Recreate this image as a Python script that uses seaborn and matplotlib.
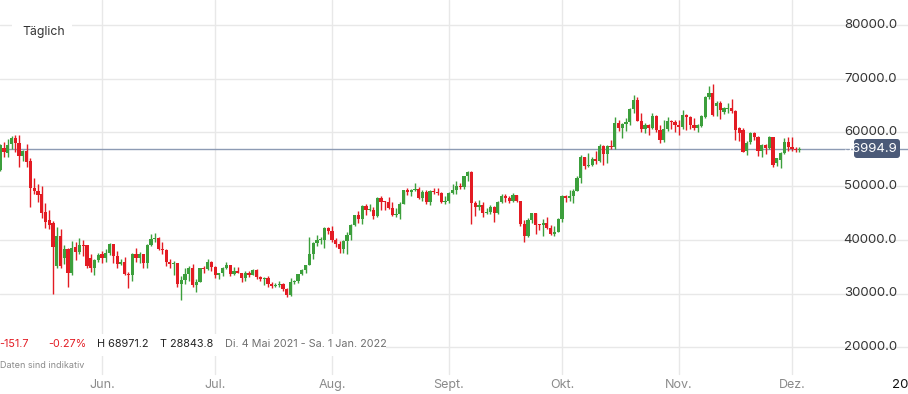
"""
Daily BTC candlestick chart, May - Dec 2021.
"""

import pandas as pd
import numpy as np
import matplotlib
matplotlib.use('Agg')
import matplotlib.pyplot as plt
import matplotlib.patches as mpatches
from matplotlib.transforms import IdentityTransform
import seaborn as sns

# Daily candles, 5 May 2021 - 3 Dec 2021
dates = pd.date_range('2021-05-05', '2021-12-03', freq='D')

open_ = [
    # May
    53000, 57100, 56150, 57850, 58950, 58000, 55600, 56500, 54700, 49650, 49100, 48500, 45200, 43700,
    43100, 35100, 40700, 36600, 38300, 33800, 38700, 37750, 39000, 39000, 36600, 34750, 36250,
    # Jun
    37300, 36700, 37600, 39200, 36900, 35500, 35800, 33600, 33400, 37300, 36700, 37300, 35600, 39100,
    40200, 40400, 38300, 38100, 35800, 35500, 35600, 31700, 32500, 33700, 34700, 31600, 32200, 34700,
    34500, 35900,
    # Jul
    35000, 33500, 33800, 34700, 35300, 33700, 34200, 33900, 32900, 33800, 33500, 34300, 33100, 32700,
    32800, 31800, 31400, 31500, 31800, 30800, 29800, 32100, 32300, 33600, 34300, 35400, 37300, 39400,
    40000, 40000, 42200,
    # Aug
    41600, 39900, 39200, 38200, 39700, 40900, 42800, 44600, 43800, 46300, 45600, 45600, 44400, 47800,
    47100, 47000, 45900, 44700, 44800, 46700, 49300, 48900, 49300, 49500, 47700, 48900, 47000, 49100,
    48900, 48800, 47000,
    # Sep
    47200, 48800, 49300, 50000, 49900, 51800, 52700, 46800, 46100, 46400, 44900, 45200, 46100, 44900,
    47100, 48200, 47800, 47300, 48300, 47300, 43000, 40700, 43600, 44900, 42800, 42700, 43200, 42200,
    41000, 41500,
    # Oct
    43800, 48100, 47700, 48200, 49100, 51500, 55400, 53800, 53900, 55000, 54700, 57500, 56000, 57400,
    57300, 61700, 60900, 61500, 62000, 64300, 66000, 62200, 60700, 61400, 60900, 63000, 60400, 58500,
    60600, 62200, 61900,
    # Nov
    61300, 61000, 63200, 62900, 61400, 60800, 61200, 62900, 66600, 67300, 65000, 65500, 63800, 64300,
    64600, 64000, 60800, 60450, 56500, 58200, 59900, 59150, 56550, 57650, 57100, 59150, 54300, 54850,
    56150, 58200,
    # Dec
    57300, 57000, 56700,
]

high = [
    57900, 58300, 58700, 59400, 59500, 59600, 56800, 57900, 55200, 51500, 50300, 50000, 46800, 45500,
    43500, 42400, 42000, 39000, 38500, 39800, 39500, 40400, 40000, 39100, 37300, 36500, 37500,
    37900, 38200, 39400, 39300, 37900, 36400, 36800, 34000, 37500, 38400, 37700, 37400, 39300, 41000,
    41300, 40500, 39500, 38200, 36400, 36100, 35700, 33300, 34800, 35200, 35500, 32700, 34700, 35200,
    36500, 36100,
    35100, 33900, 34900, 35900, 35300, 35000, 35000, 33900, 34100, 34200, 34600, 34600, 33300, 33100,
    33200, 32200, 31900, 32400, 31900, 31000, 32800, 32600, 33600, 34500, 35400, 40500, 39500, 40900,
    40600, 42300, 42400,
    42600, 40400, 39800, 39900, 41400, 43000, 44700, 45300, 46400, 46600, 46700, 46200, 47900, 48100,
    47300, 48000, 47100, 46000, 47000, 49300, 49700, 49500, 50500, 49800, 49300, 49300, 49200, 49600,
    49600, 48900, 48200,
    48900, 50400, 51000, 50500, 51900, 52800, 52900, 47300, 47400, 47100, 45900, 46400, 46300, 47200,
    48500, 48500, 48100, 48800, 48400, 47300, 43600, 44000, 44900, 45000, 42900, 43900, 44300, 42700,
    42600, 44100,
    48400, 48300, 49200, 49400, 51800, 55700, 55400, 56100, 55400, 56500, 57800, 57600, 57700, 58500,
    62800, 62300, 61700, 62600, 64500, 67000, 66600, 63700, 61700, 61500, 63600, 63300, 61400, 62400,
    62900, 62300, 62300,
    62400, 64200, 63500, 63100, 62600, 61600, 63300, 66800, 68600, 68971, 65800, 65800, 64800, 65400,
    66200, 64100, 61000, 60900, 58400, 60000, 60000, 59300, 57800, 57800, 59300, 59200, 55300, 56300,
    58900, 59200,
    59100, 57300, 57300,
]

low = [
    52900, 55500, 55500, 57000, 56400, 53600, 54600, 53600, 46100, 48500, 47000, 44000, 42200, 42000,
    30000, 34800, 34800, 35500, 31200, 33500, 36300, 37300, 36900, 34800, 34000, 33500, 35800,
    35700, 35900, 37200, 35600, 34800, 35300, 33400, 31000, 32400, 35800, 35700, 34700, 34800, 38800,
    39500, 38100, 37400, 35200, 34800, 33400, 31300, 28844, 31700, 32400, 31300, 30200, 32100, 33900,
    34300, 34100,
    32800, 32700, 33300, 34500, 33200, 33500, 33800, 32100, 32300, 33000, 33400, 32700, 32300, 31600,
    31200, 31100, 31200, 31200, 30500, 29300, 29500, 31700, 32000, 33400, 33900, 35300, 36400, 38800,
    39300, 38400, 41000,
    39500, 38700, 37600, 37500, 37300, 39900, 42500, 43100, 42900, 44600, 45400, 43800, 44300, 45600,
    45500, 45700, 44400, 44200, 43900, 46600, 48300, 48200, 49000, 47600, 47200, 46600, 46500, 48600,
    48300, 46900, 46700,
    46800, 48600, 48500, 49500, 49500, 50900, 43000, 44500, 45600, 44200, 44800, 44800, 43400, 44800,
    46800, 47100, 46800, 47100, 47100, 42600, 39600, 40600, 43200, 41000, 41800, 40800, 42100, 40900,
    40800, 41400,
    43300, 47100, 47200, 46900, 49000, 50500, 53200, 53600, 53700, 54100, 54500, 54000, 54300, 56900,
    56900, 60200, 58900, 60200, 61400, 63600, 62100, 60100, 59900, 59600, 60600, 60100, 58100, 58200,
    60300, 60700, 60000,
    59500, 60700, 60400, 60700, 60500, 60100, 61000, 62700, 66300, 63000, 63100, 62500, 63500, 63700,
    63600, 58600, 58400, 56400, 55700, 57800, 58600, 55600, 55500, 55900, 57000, 53600, 53700, 53400,
    56000, 56500,
    56600, 56300, 56300,
]

close = [
    57600, 56350, 57650, 59000, 58000, 55600, 56500, 54500, 49650, 49100, 48350, 45000, 43300, 42800,
    38700, 40700, 35100, 38300, 33800, 38500, 37750, 39000, 38800, 35100, 34750, 36250, 37200,
    36700, 37600, 39200, 36900, 35500, 35800, 33600, 33400, 37300, 36700, 37300, 35600, 39100, 40200,
    40400, 38300, 38100, 35800, 35500, 35600, 31700, 32500, 33700, 34700, 31600, 32200, 34700, 34500,
    35900, 35000,
    33500, 33800, 34700, 35300, 33700, 34200, 33900, 32900, 33800, 33500, 34300, 33100, 32700, 32800,
    31800, 31400, 31500, 31800, 30800, 29800, 32100, 32300, 33600, 34300, 35400, 37300, 39400, 40000,
    40000, 42200, 41600,
    39900, 39200, 38200, 39700, 40900, 42800, 44600, 43800, 46300, 45600, 45600, 44400, 47800, 47100,
    47000, 45900, 44700, 44800, 46700, 49300, 48900, 49300, 49500, 47700, 48900, 47000, 49100, 48900,
    48800, 47000, 47200,
    48800, 49300, 50000, 49900, 51800, 52700, 46800, 46100, 46400, 44900, 45200, 46100, 44900, 47100,
    48200, 47800, 47300, 48300, 47300, 43000, 40700, 43600, 44900, 42800, 42700, 43200, 42200, 41000,
    41500, 43800,
    48100, 47700, 48200, 49100, 51500, 55400, 53800, 53900, 55000, 54700, 57500, 56000, 57400, 57300,
    61700, 60900, 61500, 62000, 64300, 66000, 62200, 60700, 61400, 60900, 63000, 60400, 58500, 60600,
    62200, 61900, 61300,
    61000, 63200, 62900, 61400, 60800, 61400, 63000, 66600, 67300, 63250, 65400, 64200, 64500, 64600,
    63900, 60450, 59900, 56350, 58000, 59900, 59150, 56550, 57650, 57100, 59150, 53950, 55200, 56150,
    58200, 57300,
    56900, 56750, 56995,
]

last_price = 56994.9
y_ticks = [20000, 30000, 40000, 50000, 60000, 70000, 80000]
month_ticks = ['2021-06-01', '2021-07-01', '2021-08-01', '2021-09-01', '2021-10-01', '2021-11-01', '2021-12-01']
month_labels = ['Jun.', 'Jul.', 'Aug.', 'Sept.', 'Okt.', 'Nov.', 'Dez.']

GREEN = '#3c9f3c'
RED = '#e31b23'
GRID = '#e8e8e8'

W, H = 908, 394

sns.set_theme(style='white')
plt.rcParams['font.family'] = ['Inter', 'DejaVu Sans']

df = pd.DataFrame({'date': dates, 'open': open_, 'high': high, 'low': low, 'close': close})
df['up'] = df['close'] >= df['open']
colors = np.where(df['up'], GREEN, RED)

fig = plt.figure(figsize=(W / 100, H / 100), dpi=100)
ax = fig.add_axes([0, 0, 1, 1])
sns.despine(ax=ax, left=True, bottom=True, right=True, top=True)

# grid
for v in y_ticks:
    ax.axhline(v, color=GRID, lw=1, zorder=0)
for d in month_ticks:
    ax.axvline(pd.Timestamp(d), ymin=20 / H, ymax=1, color=GRID, lw=1, zorder=0)

# candles
ax.vlines(df['date'], df['low'], df['high'], colors=colors, lw=1, zorder=2)
body = (df['close'] - df['open']).abs().clip(lower=180)
ax.bar(df['date'], body, bottom=df[['open', 'close']].min(axis=1), width=0.85,
       color=colors, linewidth=0, zorder=3)

# last price line
ax.axhline(last_price, color='#8d9bb4', lw=1, zorder=1)

x0 = pd.Timestamp('2021-05-04') + pd.Timedelta(hours=22.5)
ax.set_xlim(x0, x0 + pd.Timedelta(days=W / 3.77))
ax.set_ylim(80000 - (H - 25) / 0.00537, 80000 + 25 / 0.00537)
ax.set_xticks([])
ax.set_yticks([])

# y labels on the right, inside the plot
for v in y_ticks:
    ax.text(897 / W, v, f'{v:.1f}', transform=ax.get_yaxis_transform(), ha='right', va='center',
            fontsize=9.5, color='#333333')

# x labels
for d, lab in zip(month_ticks, month_labels):
    ax.text(pd.Timestamp(d), 9 / H, lab, transform=ax.get_xaxis_transform(), ha='center',
            va='center', fontsize=9, color='#8a8a8a')
ax.text(pd.Timestamp('2022-01-01'), 9 / H, '2022', transform=ax.get_xaxis_transform(),
        ha='center', va='center', fontsize=9.5, color='#111111')

# price tag
tag = mpatches.FancyBboxPatch((854, H - 158), 46, 19, boxstyle='round,pad=0,rounding_size=3',
                              transform=IdentityTransform(), facecolor='#4b5a78', edgecolor='none',
                              zorder=5)
fig.add_artist(tag)
fig.text(897 / W, 1 - 148.5 / H, f'{last_price:.1f}', ha='right', va='center', fontsize=9.5,
         color='white', zorder=6)

# "Täglich" box
fig.add_artist(mpatches.Rectangle((12, H - 47), 60, 30, transform=IdentityTransform(),
                                  facecolor='white', edgecolor='none', zorder=4))
fig.text(22 / W, 1 - 32 / H, 'Täglich', ha='left', va='center', fontsize=8.8, color='#333333', zorder=6)

# info row at the bottom
fig.add_artist(mpatches.Rectangle((0, H - 356), 386, 22, transform=IdentityTransform(),
                                  facecolor='white', edgecolor='none', zorder=4))
info_y = 1 - 344 / H
fig.text(-1 / W, info_y, '-151.7', ha='left', va='center', fontsize=7.8, color=RED, zorder=6)
fig.text(48 / W, info_y, '-0.27%', ha='left', va='center', fontsize=7.8, color=RED, zorder=6)
fig.text(97 / W, info_y, 'H 68971.2', ha='left', va='center', fontsize=7.8, color='#222222', zorder=6)
fig.text(160 / W, info_y, 'T 28843.8', ha='left', va='center', fontsize=7.8, color='#222222', zorder=6)
fig.text(225 / W, info_y, 'Di. 4 Mai 2021 - Sa. 1 Jan. 2022', ha='left', va='center', fontsize=7.8,
         color='#707070', zorder=6)
fig.text(0, 1 - 365 / H, 'Daten sind indikativ', ha='left', va='center', fontsize=6.5,
         color='#8a8a8a', zorder=6)

plt.savefig('out.png', dpi=100)
plt.close()
print("Saved out.png")
